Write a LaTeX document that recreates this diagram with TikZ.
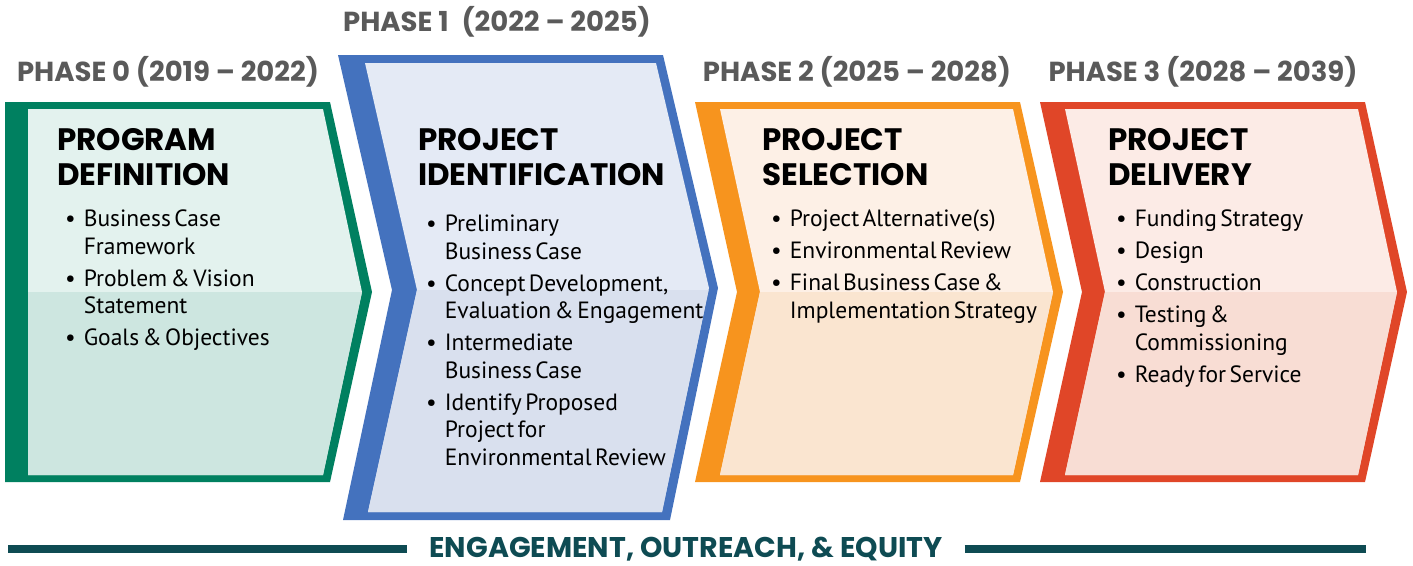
\documentclass[tikz,border=0pt]{standalone}
\usepackage{fontspec}
\usepackage{xcolor}
\usepackage{tikz}
\usetikzlibrary{positioning}
\setmainfont{PT Sans}[WordSpace=0.55]
\newfontfamily\popfont{Poppins}

\definecolor{verde}{RGB}{0,128,96}
\definecolor{verdeA}{RGB}{227,242,238}
\definecolor{verdeB}{RGB}{205,230,224}
\definecolor{blu}{RGB}{68,114,190}
\definecolor{bluA}{RGB}{228,234,245}
\definecolor{bluB}{RGB}{217,224,238}
\definecolor{arancio}{RGB}{247,148,30}
\definecolor{arancioA}{RGB}{253,240,230}
\definecolor{arancioB}{RGB}{250,229,208}
\definecolor{rosso}{RGB}{224,70,40}
\definecolor{rossoA}{RGB}{252,235,230}
\definecolor{rossoB}{RGB}{248,221,212}
\definecolor{grigio}{RGB}{90,90,90}
\definecolor{petrolio}{RGB}{14,75,83}

\newcommand{\blt}{\textbullet\hspace{8pt}}
\newcommand{\ind}{\phantom{\textbullet}\hspace{8pt}}

\begin{document}
\begin{tikzpicture}[
			x=1pt, y=-1pt,
			fase/.style={
					font=\popfont\bfseries\fontsize{27.5}{31}\selectfont,
					text=grigio, inner sep=0pt
				},
			titolo/.style={
					anchor=north west, align=left, inner sep=0pt,
					font=\popfont\bfseries\fontsize{31}{35}\selectfont
				},
			voci/.style={
					anchor=north west, align=left, inner sep=0pt,
					font=\fontsize{23.5}{27.5}\selectfont
				}
		]
		\useasboundingbox (0,0) rectangle (1413,565);

		% fase 0
		\fill[verde] (5,102) -- (330,102) -- (372,292) -- (330,482) -- (5,482) -- cycle;
		\fill[verdeA] (28,109) -- (323,109) -- (362,292) -- (323,475) -- (28,475) -- cycle;
		\begin{scope}
			\clip (0,292) rectangle (400,480);
			\fill[verdeB] (28,109) -- (323,109) -- (362,292) -- (323,475) -- (28,475) -- cycle;
		\end{scope}

		% fase 1
		\fill[blu] (338,55) -- (663,55) -- (718,288) -- (670,520) -- (343,520) -- (392,290) -- cycle;
		\fill[bluA] (365,63) -- (656,63) -- (709,288) -- (662,512) -- (368,512) -- (417,290) -- cycle;
		\begin{scope}
			\clip (340,290) rectangle (720,515);
			\fill[bluB] (365,63) -- (656,63) -- (709,288) -- (662,512) -- (368,512) -- (417,290) -- cycle;
		\end{scope}

		% fase 2
		\fill[arancio] (695,102) -- (1020,102) -- (1063,292) -- (1020,482) -- (695,482) -- (737,292) -- cycle;
		\fill[arancioA] (720,109) -- (1013,109) -- (1053,292) -- (1013,475) -- (720,475) -- (760,292) -- cycle;
		\begin{scope}
			\clip (690,292) rectangle (1070,480);
			\fill[arancioB] (720,109) -- (1013,109) -- (1053,292) -- (1013,475) -- (720,475) -- (760,292) -- cycle;
		\end{scope}

		% fase 3
		\fill[rosso] (1040,102) -- (1365,102) -- (1407,292) -- (1365,482) -- (1040,482) -- (1082,292) -- cycle;
		\fill[rossoA] (1065,109) -- (1358,109) -- (1397,292) -- (1358,475) -- (1065,475) -- (1105,292) -- cycle;
		\begin{scope}
			\clip (1035,292) rectangle (1410,480);
			\fill[rossoB] (1065,109) -- (1358,109) -- (1397,292) -- (1358,475) -- (1065,475) -- (1105,292) -- cycle;
		\end{scope}

		% etichette delle fasi
		\node[fase] (f0) at (168,72) {PHASE 0 (2019 – 2022)};
		\node[fase] (f1) at (497,22) {PHASE 1\hspace{7pt} (2022 – 2025)};
		\node[fase] (f2) at (857,72) {PHASE 2 (2025 – 2028)};
		\node[fase] (f3) at (1203,72) {PHASE 3 (2028 – 2039)};

		% titoli
		\node[titolo] (t0) at (57,128) {PROGRAM\\DEFINITION};
		\node[titolo] (t1) at (418,128) {PROJECT\\IDENTIFICATION};
		\node[titolo] (t2) at (762,128) {PROJECT\\SELECTION};
		\node[titolo] (t3) at (1108,128) {PROJECT\\DELIVERY};

		% elenchi puntati
		\node[voci] (v0) at (65,210) {\blt Business Case\\\ind Framework\\[4.5pt]
				\blt Problem \& Vision\\\ind Statement\\[4.5pt]
				\blt Goals \& Objectives};
		\node[voci] (v1) at (426,215) {\blt Preliminary\\\ind Business Case\\[4.5pt]
				\blt Concept Development,\\\ind Evaluation \& Engagement\\[4.5pt]
				\blt Intermediate\\\ind Business Case\\[4.5pt]
				\blt Identify Proposed\\\ind Project for\\\ind Environmental Review};
		\node[voci] (v2) at (771,210) {\blt Project Alternative(s)\\[4.5pt]
				\blt Environmental Review\\[4.5pt]
				\blt Final Business Case \&\\\ind Implementation Strategy};
		\node[voci] (v3) at (1116,210) {\blt Funding Strategy\\[4.5pt]
				\blt Design\\[4.5pt]
				\blt Construction\\[4.5pt]
				\blt Testing \&\\\ind Commissioning\\[4.5pt]
				\blt Ready for Service};

		% linea in basso
		\node[font=\popfont\bfseries\fontsize{28.5}{32}\selectfont, text=petrolio, inner sep=0pt] (eng) at (686,549) {ENGAGEMENT, OUTREACH, \& EQUITY};
		\coordinate (lineaS) at (8,549);
		\coordinate (lineaD) at (1366,549);
		\draw[petrolio, line width=8pt] (lineaS) -- ([xshift=-22pt]eng.west);
		\draw[petrolio, line width=8pt] ([xshift=22pt]eng.east) -- (lineaD);
	\end{tikzpicture}
\end{document}
